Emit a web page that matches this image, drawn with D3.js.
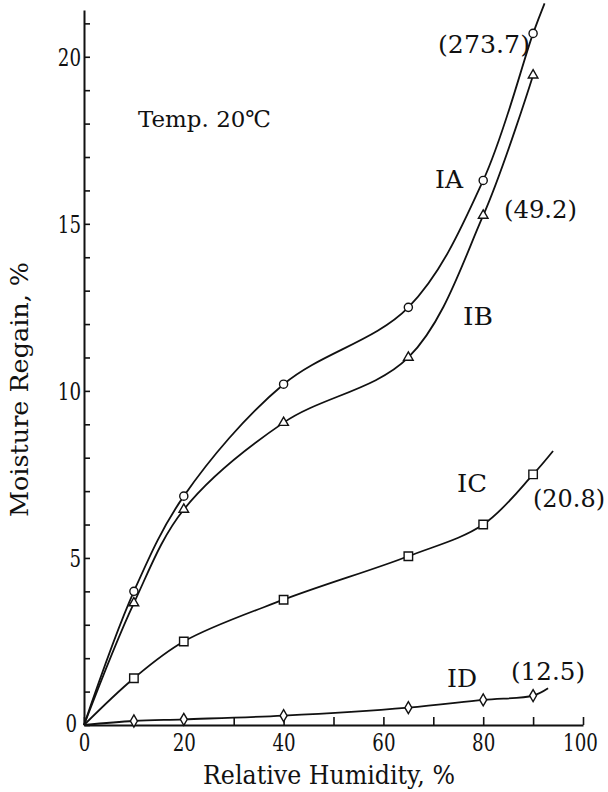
<!DOCTYPE html>
<html lang="en">
<head>
<meta charset="utf-8">
<title>Moisture Regain</title>
<script type="text/javascript" src="https://cdn.jsdelivr.net/npm/d3@7"></script>
<style>
body { margin: 0; background: #fff; }
text { font-family: "DejaVu Serif", "Liberation Serif", serif; fill: #111; }
</style>
</head>
<body>
<script type="text/javascript">
var w = 608;
var h = 792;

// relative humidity, %
var humidity = [10, 20, 40, 65, 80, 90];

// moisture regain, %
var regainIA = [4.0, 6.85, 10.2, 12.5, 16.3, 20.7];
var regainIB = [3.65, 6.45, 9.05, 11.0, 15.25, 19.45];
var regainIC = [1.4, 2.5, 3.75, 5.05, 6.0, 7.5];
var regainID = [0.12, 0.17, 0.28, 0.52, 0.75, 0.88];

// where each drawn line stops past the last point [humidity, regain]
var tailIA = [92.3, 21.6];
var tailIB = null;
var tailIC = [94, 8.2];
var tailID = [93, 1.1];

var xTicks = d3.range(0, 101, 10);
var yTicks = d3.range(0, 22, 1);

var series = [
  {name: "IA", values: regainIA, tail: tailIA, symbol: d3.symbolCircle, size: 52},
  {name: "IB", values: regainIB, tail: tailIB, symbol: d3.symbolTriangle, size: 40},
  {name: "IC", values: regainIC, tail: tailIC, symbol: d3.symbolSquare, size: 72},
  {name: "ID", values: regainID, tail: tailID, symbol: d3.symbolDiamond, size: 42}
];

var xScale = d3.scaleLinear().domain([0, 100]).range([84, 583]);
var yScale = d3.scaleLinear().domain([0, 21.4]).range([725, 10]);

var svg = d3.select("body")
  .append("svg")
  .attr("width", w)
  .attr("height", h);

// axes, ticks pointing inwards
var xAxis = d3.axisBottom(xScale)
  .tickValues(xTicks)
  .tickFormat(function (d) { return d % 20 === 0 ? d : ""; })
  .tickSizeInner(-8)
  .tickSizeOuter(0)
  .tickPadding(9);

var yAxis = d3.axisLeft(yScale)
  .tickValues(yTicks)
  .tickFormat(function (d) { return d % 5 === 0 ? d : ""; })
  .tickSizeInner(-6)
  .tickSizeOuter(0)
  .tickPadding(3);

var gx = svg.append("g")
  .attr("transform", "translate(0," + yScale(0) + ")")
  .call(xAxis);
var gy = svg.append("g")
  .attr("transform", "translate(" + xScale(0) + ",0)")
  .call(yAxis);

// narrow, tall figures like the printed ones
[gx, gy].forEach(function (g) {
  g.attr("font-family", null);
  g.select(".domain").attr("stroke", "#111").attr("stroke-width", 2);
  g.selectAll(".tick line").attr("stroke", "#111").attr("stroke-width", 1.6);
  g.selectAll(".tick text")
    .attr("font-size", 24)
    .attr("fill", "#111")
    .each(function () {
      var n = this.textContent.length;
      if (n) d3.select(this).attr("textLength", n * 11.6).attr("lengthAdjust", "spacingAndGlyphs");
    });
});
gy.selectAll(".tick text").attr("dy", "0.36em");
// the two zeros sit close together in the corner
gy.selectAll(".tick text").filter(function (d) { return d === 0; })
  .attr("dy", "0.25em").attr("x", -7);
gx.selectAll(".tick text").filter(function (d) { return d === 100; }).attr("x", -3);

// curves, starting at the origin
var line = d3.line()
  .x(function (d) { return xScale(d[0]); })
  .y(function (d) { return yScale(d[1]); })
  .curve(d3.curveCatmullRom.alpha(0.5));

series.forEach(function (s) {
  var pts = [[0, 0]].concat(humidity.map(function (x, i) { return [x, s.values[i]]; }));
  if (s.tail) pts.push(s.tail);
  svg.append("path")
    .datum(pts)
    .attr("d", line)
    .attr("fill", "none")
    .attr("stroke", "#111")
    .attr("stroke-width", 1.8);
});

series.forEach(function (s) {
  svg.append("g").selectAll("path")
    .data(humidity.map(function (x, i) { return [x, s.values[i]]; }))
    .enter()
    .append("path")
    .attr("transform", function (d) {
      return "translate(" + xScale(d[0]) + "," + yScale(d[1]) + ")";
    })
    .attr("d", d3.symbol().type(s.symbol).size(s.size))
    .attr("fill", "#fff")
    .attr("stroke", "#111")
    .attr("stroke-width", 1.4);
});

// annotations
var notes = [
  {t: "Temp. 20\u2103", x: 138, y: 127, size: 23, len: 133},
  {t: "IA", x: 435, y: 188, size: 24, len: 28},
  {t: "(273.7)", x: 438, y: 53, size: 24, len: 92},
  {t: "(49.2)", x: 504, y: 218, size: 24, len: 73},
  {t: "IB", x: 463, y: 325, size: 24, len: 30},
  {t: "IC", x: 457, y: 492, size: 24, len: 30},
  {t: "(20.8)", x: 533, y: 507, size: 24, len: 72},
  {t: "ID", x: 447, y: 687, size: 24, len: 30},
  {t: "(12.5)", x: 511, y: 680, size: 24, len: 74}
];

svg.selectAll("text.note")
  .data(notes)
  .enter()
  .append("text")
  .attr("class", "note")
  .attr("x", function (d) { return d.x; })
  .attr("y", function (d) { return d.y; })
  .attr("font-size", function (d) { return d.size; })
  .attr("textLength", function (d) { return d.len; })
  .attr("lengthAdjust", "spacingAndGlyphs")
  .text(function (d) { return d.t; });

// axis titles
svg.append("text")
  .attr("x", 203)
  .attr("y", 784)
  .attr("font-size", 26)
  .attr("textLength", 252)
  .attr("lengthAdjust", "spacingAndGlyphs")
  .text("Relative Humidity, %");

svg.append("text")
  .attr("transform", "translate(28,517) rotate(-90)")
  .attr("font-size", 25)
  .attr("textLength", 255)
  .attr("lengthAdjust", "spacingAndGlyphs")
  .text("Moisture Regain, %");
</script>
</body>
</html>
